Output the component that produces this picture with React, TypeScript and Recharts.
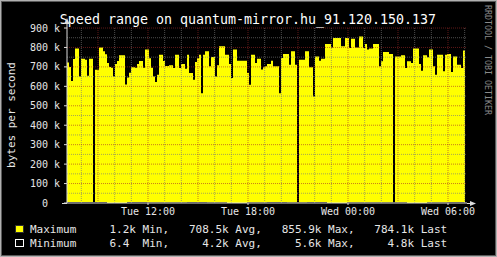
import { AreaChart, Area, XAxis, YAxis, ReferenceLine } from "recharts";

// one sample every 7.2 minutes, starting Tue 07:08 (hours since Tue 00:00)
const START_HOUR = 7.14;
const STEP_HOURS = 0.12;

// Maximum, in kB/s
const maxKBps = [
  722, 700, 628, 740, 795, 795, 650, 742, 742, 737,
  655, 742, 742, 1.2, 685, 685, 800, 800, 780, 765,
  720, 700, 695, 650, 715, 730, 760, 760, 760, 610,
  645, 670, 698, 698, 695, 715, 730, 730, 695, 790,
  790, 745, 695, 650, 622, 660, 763, 763, 730, 705,
  705, 708, 708, 694, 763, 763, 694, 715, 715, 690,
  763, 668, 668, 634, 725, 745, 763, 565, 763, 780,
  780, 703, 751, 751, 651, 708, 806, 806, 806, 763,
  763, 715, 643, 789, 789, 732, 732, 732, 732, 732,
  668, 608, 763, 763, 720, 742, 742, 686, 698, 703,
  715, 715, 732, 703, 703, 703, 565, 746, 766, 766,
  766, 711, 780, 780, 711, 1.2, 737, 737, 737, 780,
  780, 698, 698, 548, 753, 753, 732, 742, 742, 818,
  818, 818, 800, 849, 849, 849, 849, 806, 806, 849,
  849, 797, 845, 845, 800, 800, 856, 856, 797, 818,
  789, 794, 794, 818, 818, 818, 703, 729, 777, 777,
  777, 766, 766, 1.2, 753, 753, 753, 760, 760, 694,
  729, 729, 720, 794, 794, 794, 715, 680, 760, 760,
  749, 789, 789, 703, 660, 763, 763, 763, 677, 763,
  766, 766, 674, 753, 753, 711, 711, 694, 784, 784,
];

// Minimum, in kB/s, one value per 10 samples
const minKBps = [
  5.2, 4.8, 0.1, 5.1, 4.5, 3.9, 5.6, 4.2, 0.5, 4.0,
  4.6, 3.8, 4.9, 0.3, 4.1, 4.4, 3.7, 0.1, 4.3, 4.8,
];

const timeTicks = [12, 18, 24, 30];
const timeLabels = ["Tue 12:00", "Tue 18:00", "Wed 00:00", "Wed 06:00"];
const valueTicks = [0, 100, 200, 300, 400, 500, 600, 700, 800, 900];
const valueLabels = ["0  ", "100 k", "200 k", "300 k", "400 k", "500 k", "600 k", "700 k", "800 k", "900 k"];
const minorValues = [50, 150, 250, 350, 450, 550, 650, 750, 850];
const hourLines = [8, 9, 10, 11, 12, 13, 14, 15, 16, 17, 18, 19, 20, 21, 22, 23, 24, 25, 26, 27, 28, 29, 30, 31];

const legendRows = [
  { name: "Maximum", stats: "     1.2k Min,   708.5k Avg,   855.9k Max,   784.1k Last", color: "#ffff00" },
  { name: "Minimum", stats: "     6.4  Min,     4.2k Avg,     5.6k Max,     4.8k Last", color: "#000000" },
];

const MONO = "'DejaVu Sans Mono', monospace";
const X_DOMAIN = [START_HOUR, START_HOUR + 24];
const MINOR = "rgba(120,120,120,0.65)";
const MAJOR = "rgba(160,40,40,0.6)";

const data = maxKBps.map((v, i) => ({
  t: START_HOUR + i * STEP_HOURS,
  max: v,
  min: minKBps[Math.min(Math.floor(i / 10), minKBps.length - 1)],
}));

function ValueTick({ x, y, payload }: any) {
  const label = valueLabels[valueTicks.indexOf(payload.value)];
  return (
    <text x={x} y={y} dy={3.5} textAnchor="end" fill="#e6e6e6" fontSize={10} fontFamily={MONO} style={{ whiteSpace: "pre" }}>
      {label}
    </text>
  );
}

export default function App() {
  return (
    <div style={{ position: "absolute", left: 0, top: 0, width: 497, height: 257, background: "#000" }}>
      <AreaChart width={497} height={257} data={data} margin={{ top: 28, right: 30, bottom: 34, left: 7 }}>
        <XAxis
          dataKey="t"
          type="number"
          domain={X_DOMAIN}
          ticks={timeTicks}
          tickFormatter={(v: number) => timeLabels[timeTicks.indexOf(v)]}
          height={20}
          tickSize={2}
          tickMargin={3}
          stroke="#dcdcdc"
          tick={{ fill: "#e6e6e6", fontSize: 10, fontFamily: MONO }}
        />
        <YAxis
          domain={[0, 900]}
          ticks={valueTicks}
          width={60}
          tickSize={3}
          tickMargin={4}
          stroke="#dcdcdc"
          tick={<ValueTick />}
          interval={0}
        />
        <Area type="stepAfter" dataKey="max" fill="#ffff00" fillOpacity={1} stroke="none" isAnimationActive={false} />
        <Area type="stepAfter" dataKey="min" fill="#000000" fillOpacity={1} stroke="none" isAnimationActive={false} />
        {minorValues.map((v) => (
          <ReferenceLine key={"mv" + v} y={v} stroke={MINOR} strokeDasharray="1 1" />
        ))}
        {hourLines.filter((h) => h % 3 !== 0).map((h) => (
          <ReferenceLine key={"mh" + h} x={h} stroke={MINOR} strokeDasharray="1 1" />
        ))}
        {valueTicks.slice(1).map((v) => (
          <ReferenceLine key={"Mv" + v} y={v} stroke={MAJOR} strokeDasharray="1 1" />
        ))}
        {hourLines.filter((h) => h % 3 === 0).map((h) => (
          <ReferenceLine key={"Mh" + h} x={h} stroke={MAJOR} strokeDasharray="1 1" />
        ))}
      </AreaChart>
      <svg width={497} height={257} style={{ position: "absolute", left: 0, top: 0, pointerEvents: "none" }}>
        <rect x={0.5} y={0.5} width={496} height={256} fill="none" stroke="#b0b0b0" />
        <rect x={1.5} y={1.5} width={494} height={254} fill="none" stroke="#5a5a5a" />
        <text x={248} y={24} textAnchor="middle" fill="#ffffff" fontSize={13.3} fontFamily={MONO}>
          Speed range on quantum-mirror.hu_91.120.150.137
        </text>
        <text transform="translate(15,115) rotate(-90)" textAnchor="middle" fill="#e6e6e6" fontSize={11} fontFamily={MONO}>
          bytes per second
        </text>
        <text transform="translate(485,5) rotate(90)" fill="#8a8a8a" fontSize={8.3} fontFamily={MONO}>
          RRDTOOL / TOBI OETIKER
        </text>
        {/* axis arrows */}
        <line x1={67} y1={28} x2={67} y2={22} stroke="#dcdcdc" />
        <path d="M64.5,24 L67,18 L69.5,24 Z" fill="#dcdcdc" />
        <line x1={62} y1={203.5} x2={67} y2={203.5} stroke="#dcdcdc" />
        <line x1={467} y1={203.5} x2={471} y2={203.5} stroke="#dcdcdc" />
        <path d="M470,201 L476,203.5 L470,206 Z" fill="#dcdcdc" />
        {legendRows.map((r, i) => (
          <g key={r.name}>
            <rect x={15.5} y={225.5 + i * 14} width={8} height={7} fill={r.color} stroke={i === 0 ? "#303030" : "#ffffff"} />
            <text x={30} y={233 + i * 14} fill="#e6e6e6" fontSize={11} fontFamily={MONO} style={{ whiteSpace: "pre" }}>
              {r.name + r.stats}
            </text>
          </g>
        ))}
      </svg>
    </div>
  );
}
